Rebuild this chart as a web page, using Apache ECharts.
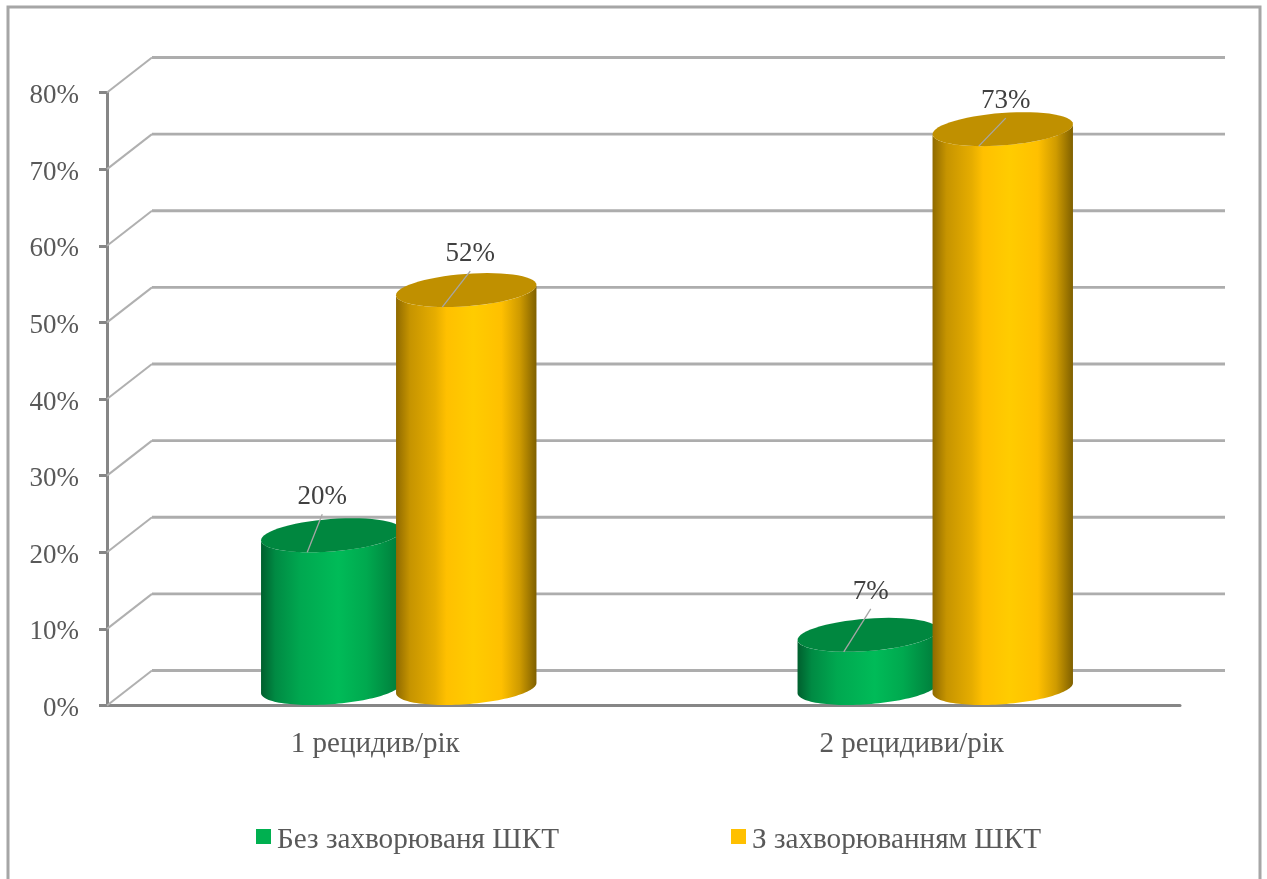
<!DOCTYPE html>
<html>
<head>
<meta charset="utf-8">
<style>html,body{margin:0;padding:0;background:#fff}#c{width:1267px;height:879px}</style>
<script src="https://cdn.jsdelivr.net/npm/echarts@6/dist/echarts.min.js"></script>
</head>
<body>
<div id="c"></div>
<script>
const categories = ['1 рецидив/рік', '2 рецидиви/рік'];
const seriesNames = ['Без захворюваня ШКТ', 'З захворюванням ШКТ'];
const withoutGI = [20, 7];
const withGI = [52, 73];
const gridTicks = [0, 10, 20, 30, 40, 50, 60, 70, 80];

// layout of the pseudo-3D drawing (pixels)
const DEPTH_X = 45, DEPTH_Y = 35;
const SHIFT_X = 22, BAR_OFFSETS = [-66, 69];
const RX = 67, SHEAR = 21, RY = 17;
const leaderEnds = [[[15, -38], [27, -43]], [[28, -36], [27, -28]]];
const labelFont = '27px "Liberation Serif"';

const chart = echarts.init(document.getElementById('c'), null, {renderer: 'canvas'});

function pt(cx, cy, t) {
  return [cx + RX * Math.cos(t) - SHEAR * Math.sin(t), cy + RY * Math.sin(t)];
}
function arc(cx, cy, from, to) {
  const out = [];
  const n = 60;
  for (let i = 0; i <= n; i++) out.push(pt(cx, cy, from + (to - from) * i / n));
  return out;
}
function hGrad(stops) {
  return new echarts.graphic.LinearGradient(0, 0, 1, 0,
    stops.map(s => ({offset: s[0], color: s[1]})));
}
const bodyStops = [
  [[0, '#005f2e'], [0.1, '#008a43'], [0.28, '#00a850'], [0.55, '#00bb58'], [0.75, '#00a94f'], [1, '#007a3a']],
  [[0, '#8f6a00'], [0.1, '#c69400'], [0.28, '#e6ad00'], [0.36, '#ffc000'], [0.55, '#ffcc00'], [0.75, '#ffc000'], [0.88, '#cf9b00'], [1, '#7f6000']]
];
const topColors = ['#00873f', '#c09000'];

function cylinder(si) {
  return function (params, api) {
    const idx = api.value(0), val = api.value(1);
    const topP = api.coord([idx, val]);
    const baseP = api.coord([idx, 0]);
    const cx = topP[0] + SHIFT_X + BAR_OFFSETS[si];
    const tR = Math.atan2(-SHEAR, RX), tL = Math.PI + tR;
    const topCy = topP[1] - RY, baseCy = baseP[1] - RY - 0.5;
    const body = arc(cx, baseCy, tR, tL).concat(arc(cx, topCy, tL, tR));
    const rim = arc(cx, topCy, 0, Math.PI * 2);
    const sx = cx - 24, sy = topP[1];
    const e = leaderEnds[si][idx];
    return {
      type: 'group',
      children: [
        {type: 'polygon', shape: {points: body}, style: {fill: hGrad(bodyStops[si])}},
        {type: 'polygon', shape: {points: rim}, style: {fill: topColors[si]}},
        {type: 'line', shape: {x1: sx, y1: sy, x2: sx + e[0], y2: sy + e[1]},
          style: {stroke: '#a6a6a6', lineWidth: 1.3}},
        {type: 'text', style: {x: sx + e[0], y: sy + e[1] - 17, text: val + '%', font: labelFont,
          fill: '#404040', align: 'center', verticalAlign: 'middle'}}
      ]
    };
  };
}

function wall(params, api) {
  const v = api.value(0);
  const p = api.coord([0, v]);
  const c = params.coordSys;
  const x0 = c.x, y = p[1];
  return {
    type: 'group',
    children: [
      {type: 'line', shape: {x1: x0, y1: y, x2: x0 + DEPTH_X, y2: y - DEPTH_Y},
        style: {stroke: '#b0b0b0', lineWidth: 2}},
      {type: 'line', shape: {x1: x0 + DEPTH_X, y1: y - DEPTH_Y, x2: x0 + DEPTH_X + c.width, y2: y - DEPTH_Y},
        style: {stroke: '#adadad', lineWidth: 2.8}}
    ]
  };
}

chart.setOption({
  animation: false,
  backgroundColor: '#ffffff',
  textStyle: {fontFamily: 'Liberation Serif'},
  graphic: [{
    type: 'rect', silent: true, z: -1,
    shape: {x: 8, y: 7, width: 1252, height: 900},
    style: {fill: '#fff', stroke: '#a6a6a6', lineWidth: 3}
  }],
  legend: {
    left: 251, top: 821, itemWidth: 15, itemHeight: 15, itemGap: 172,
    icon: 'rect',
    data: seriesNames,
    formatter: n => '{a|' + n + '}',
    textStyle: {color: '#595959', fontSize: 29.2, fontFamily: 'Liberation Serif',
      rich: {a: {color: '#595959', fontSize: 29.2, fontFamily: 'Liberation Serif', padding: [8, 0, 0, 1]}}}
  },
  grid: {left: 107, right: 87, top: 92.5, bottom: 173.5, containLabel: false},
  xAxis: {
    type: 'category', data: categories,
    axisLine: {onZero: false, lineStyle: {color: '#868686', width: 3}},
    axisTick: {show: false},
    axisLabel: {color: '#595959', fontSize: 29, fontFamily: 'Liberation Serif', margin: 24}
  },
  yAxis: {
    type: 'value', min: 0, max: 80, interval: 10,
    axisLine: {show: true, lineStyle: {color: '#868686', width: 3}},
    axisTick: {show: true, length: 8, lineStyle: {color: '#868686', width: 3}},
    splitLine: {show: false},
    axisLabel: {color: '#595959', fontSize: 27, fontFamily: 'Liberation Serif', margin: 28,
      formatter: v => '{a|' + v + '%}',
      rich: {a: {color: '#595959', fontSize: 27, fontFamily: 'Liberation Serif', padding: [7, 0, 0, 0]}}}
  },
  series: [
    {type: 'custom', name: 'wall', silent: true, z: 1, renderItem: wall,
      encode: {y: 0}, data: gridTicks.map(v => [v])},
    {type: 'custom', name: seriesNames[0], z: 2, renderItem: cylinder(0),
      itemStyle: {color: '#00b050'}, encode: {x: 0, y: 1},
      data: withoutGI.map((v, i) => [i, v])},
    {type: 'custom', name: seriesNames[1], z: 3, renderItem: cylinder(1),
      itemStyle: {color: '#ffc000'}, encode: {x: 0, y: 1},
      data: withGI.map((v, i) => [i, v])}
  ]
});
</script>
</body>
</html>
